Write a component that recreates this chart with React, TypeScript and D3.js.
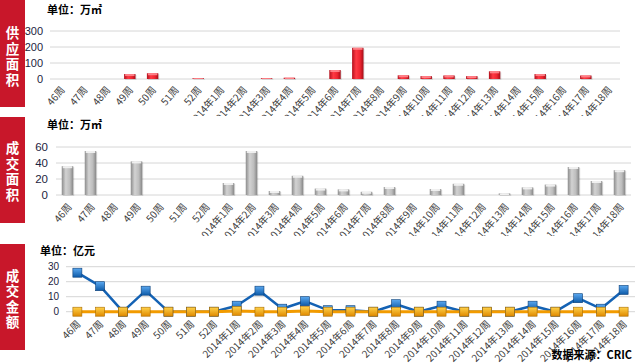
import { useEffect, useRef } from "react"
import * as d3 from "d3"

// categories (weeks)
const weeks = [
  "46周", "47周", "48周", "49周", "50周", "51周", "52周",
  "2014年1周", "2014年2周", "2014年3周", "2014年4周", "2014年5周", "2014年6周",
  "2014年7周", "2014年8周", "2014年9周", "2014年10周", "2014年11周", "2014年12周",
  "2014年13周", "2014年14周", "2014年15周", "2014年16周", "2014年17周", "2014年18周",
]

// 供应面积 (万㎡)
const supplyArea = [0, 0, 0, 31, 36, 0, 5, 0, 0, 5, 8, 0, 56, 195, 0, 23, 18, 22, 18, 48, 0, 31, 0, 22, 0]
// 成交面积 (万㎡)
const dealArea = [36, 55, 0, 42, 0, 0, 0, 15, 55, 5, 24, 8, 7, 4, 10, 0, 7.5, 14, 0, 2, 9.5, 13, 35, 17.5, 31]
// 成交金额 (亿元)
const dealAmountA = [26, 17, 0, 14, 0, 0, 0, 4, 14, 2, 7, 1, 1, 0, 5, 0, 4, 0, 0, 0, 4, 0, 9, 2, 14.5]
const dealAmountB = [0, 0, 0, 0, 0, 0, 0, 0.5, 0, 0, 0.5, 0, 0, 0, 0, 0, 0, 0, 0, 0, 0, 0, 0, 0, 0]

const supplyTicks = [0, 100, 200, 300]
const areaTicks = [0, 20, 40, 60]
const amountTicks = [0, 10, 20, 30]

const FONT = "'Liberation Sans', 'Noto Sans CJK SC', sans-serif"
const CJK = "'Noto Sans CJK SC', 'Liberation Sans', sans-serif"

export default function App() {
  const ref = useRef<SVGSVGElement>(null)

  useEffect(() => {
    const svg = d3.select(ref.current)
    svg.selectAll("*").remove()

    const defs = svg.append("defs")

    // bar gradients (3D cylinder look)
    const redGrad = defs.append("linearGradient").attr("id", "red-bar").attr("x1", "0").attr("x2", "1")
    redGrad.append("stop").attr("offset", "0%").attr("stop-color", "#b3101c")
    redGrad.append("stop").attr("offset", "35%").attr("stop-color", "#ff3a44")
    redGrad.append("stop").attr("offset", "70%").attr("stop-color", "#ee2530")
    redGrad.append("stop").attr("offset", "100%").attr("stop-color", "#a50d18")

    const grayGrad = defs.append("linearGradient").attr("id", "gray-bar").attr("x1", "0").attr("x2", "1")
    grayGrad.append("stop").attr("offset", "0%").attr("stop-color", "#8c8c8c")
    grayGrad.append("stop").attr("offset", "35%").attr("stop-color", "#d2d2d2")
    grayGrad.append("stop").attr("offset", "70%").attr("stop-color", "#bdbdbd")
    grayGrad.append("stop").attr("offset", "100%").attr("stop-color", "#868686")

    const blueGrad = defs.append("linearGradient").attr("id", "blue-mk").attr("x1", "0").attr("y1", "0").attr("x2", "0").attr("y2", "1")
    blueGrad.append("stop").attr("offset", "0%").attr("stop-color", "#5aa8f0")
    blueGrad.append("stop").attr("offset", "100%").attr("stop-color", "#0d5aa8")

    const orangeGrad = defs.append("linearGradient").attr("id", "orange-mk").attr("x1", "0").attr("y1", "0").attr("x2", "0").attr("y2", "1")
    orangeGrad.append("stop").attr("offset", "0%").attr("stop-color", "#ffd24a")
    orangeGrad.append("stop").attr("offset", "100%").attr("stop-color", "#e08a00")

    // panels overlap like stacked images: clip each one
    const clips = [[0, 116], [116, 236], [236, 363]]
    clips.forEach(([y0, y1], i) => {
      defs.append("clipPath").attr("id", `panel-${i}`)
        .append("rect").attr("x", 0).attr("y", y0).attr("width", 637).attr("height", y1 - y0)
    })

    const panels = [
      {
        title: "供应面积", unit: "单位：万㎡", unitX: 47, unitY: 14,
        box: [0, 107], chars: [32, 48, 63, 79],
        range: [50, 620], y: [79, 31], max: 300, ticks: supplyTicks,
        tickX: 43, tickSize: 11, labelDx: 4, labelDy: 11, rot: -50,
      },
      {
        title: "成交面积", unit: "单位：万㎡", unitX: 47, unitY: 129,
        box: [117, 223], chars: [147, 163, 178, 194],
        range: [56, 631], y: [195, 147], max: 60, ticks: areaTicks,
        tickX: 48, tickSize: 11.5, labelDx: 5, labelDy: 12, rot: -50,
      },
      {
        title: "成交金额", unit: "单位：亿元", unitX: 40, unitY: 255,
        box: [244, 350], chars: [275, 290, 306, 321],
        range: [66, 635], y: [311.7, 266.7], max: 30, ticks: amountTicks,
        tickX: 59, tickSize: 10, labelDx: 4, labelDy: 13, rot: -45,
      },
    ]

    panels.forEach((p, i) => {
      const g = svg.append("g").attr("clip-path", `url(#panel-${i})`)

      // red side label
      g.append("rect")
        .attr("x", 0).attr("y", p.box[0])
        .attr("width", 25).attr("height", p.box[1] - p.box[0])
        .attr("fill", "#c8172a")
      p.title.split("").forEach((ch, k) => {
        g.append("text")
          .attr("x", 12.5).attr("y", p.chars[k])
          .attr("text-anchor", "middle").attr("dominant-baseline", "central")
          .attr("font-family", CJK).attr("font-weight", "bold").attr("font-size", 13.5)
          .attr("fill", "#ffffff")
          .text(ch)
      })

      // unit
      g.append("text")
        .attr("x", p.unitX).attr("y", p.unitY)
        .attr("font-family", CJK).attr("font-weight", "bold").attr("font-size", 11)
        .attr("fill", "#000000")
        .text(p.unit)

      const y = d3.scaleLinear().domain([0, p.max]).range(p.y)

      // gridlines
      g.selectAll(null).data(p.ticks).join("line")
        .attr("x1", p.range[0]).attr("x2", p.range[1])
        .attr("y1", d => y(d)).attr("y2", d => y(d))
        .attr("stroke", "#d6d6d6").attr("stroke-width", 1)

      g.selectAll(null).data(p.ticks).join("text")
        .attr("x", p.tickX).attr("y", d => y(d))
        .attr("text-anchor", "end").attr("dominant-baseline", "central")
        .attr("font-family", FONT).attr("font-size", p.tickSize)
        .attr("fill", "#1c2340")
        .text(d => d)

      const band = d3.scaleBand<string>().domain(weeks).range(p.range as [number, number]).paddingInner(0.5).paddingOuter(0.25)
      const cx = (w: string) => (band(w) as number) + band.bandwidth() / 2

      // category labels
      g.selectAll(null).data(weeks).join("text")
        .attr("transform", d => `translate(${cx(d) + p.labelDx},${p.y[0] + p.labelDy}) rotate(${p.rot})`)
        .attr("text-anchor", "end")
        .attr("font-family", CJK).attr("font-size", 10)
        .attr("fill", "#3a3a3a")
        .text(d => d)

      if (i < 2) {
        const vals = i === 0 ? supplyArea : dealArea
        const fill = i === 0 ? "url(#red-bar)" : "url(#gray-bar)"
        const cap = i === 0 ? "#ff8a90" : "#f4f4f4"
        const bw = band.bandwidth()
        const bars = g.selectAll(null).data(weeks.map((w, k) => ({ w, v: vals[k] })).filter(d => d.v > 0)).join("g")
        bars.append("rect")
          .attr("x", d => (band(d.w) as number) + 1).attr("y", d => y(d.v) + 1)
          .attr("width", bw).attr("height", d => y(0) - y(d.v))
          .attr("fill", "#000").attr("opacity", 0.12)
        bars.append("rect")
          .attr("x", d => band(d.w) as number).attr("y", d => y(d.v))
          .attr("width", bw).attr("height", d => y(0) - y(d.v))
          .attr("fill", fill)
        bars.append("rect")
          .attr("x", d => (band(d.w) as number) + 1).attr("y", d => y(d.v))
          .attr("width", bw - 2).attr("height", d => Math.min(2, y(0) - y(d.v)))
          .attr("fill", cap).attr("opacity", 0.9)
      } else {
        const lineGen = d3.line<number>().x((_, k) => cx(weeks[k])).y(d => y(d))
        g.append("path").attr("d", lineGen(dealAmountA)).attr("fill", "none")
          .attr("stroke", "#1462b4").attr("stroke-width", 2.5).attr("stroke-linejoin", "round")
        g.append("path").attr("d", lineGen(dealAmountB)).attr("fill", "none")
          .attr("stroke", "#f29b00").attr("stroke-width", 3)
        const series = [
          { vals: dealAmountA, mk: "url(#blue-mk)", edge: "#0b3f78" },
          { vals: dealAmountB, mk: "url(#orange-mk)", edge: "#a86a00" },
        ]
        series.forEach(s => {
          g.selectAll(null).data(s.vals).join("rect")
            .attr("x", (_, k) => cx(weeks[k]) - 4.5).attr("y", d => y(d) - 4.5)
            .attr("width", 9).attr("height", 9)
            .attr("fill", s.mk).attr("stroke", s.edge).attr("stroke-width", 0.6)
        })
      }
    })

    svg.append("text")
      .attr("x", 632).attr("y", 359)
      .attr("text-anchor", "end")
      .attr("font-family", CJK).attr("font-weight", "bold").attr("font-size", 11)
      .attr("fill", "#000")
      .text("数据来源：CRIC")
  }, [])

  return (
    <svg ref={ref} width={637} height={363}
      style={{ position: "absolute", left: 0, top: 0, background: "#ffffff" }} />
  )
}
